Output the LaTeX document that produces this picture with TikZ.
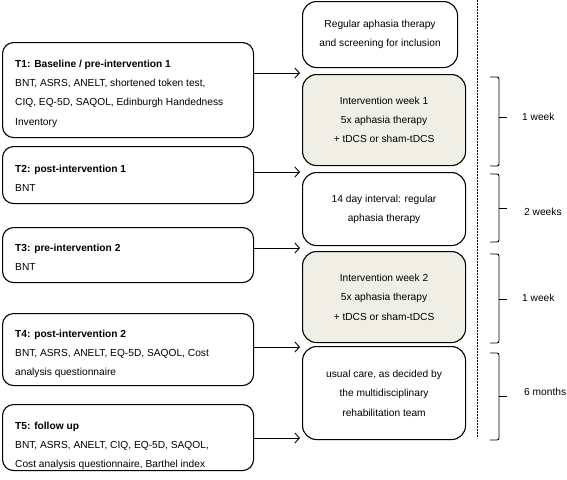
\documentclass[tikz,border=0pt]{standalone}
\usepackage{fontspec}
\setmainfont{Liberation Sans}
\usetikzlibrary{arrows.meta}
\definecolor{interfill}{RGB}{239,239,230}
\tikzset{
  lbox/.style={draw, line width=1.1pt, rounded corners=11pt, anchor=north west, inner sep=0pt},
  rbox/.style={draw, line width=1.1pt, rounded corners=14pt, anchor=north west, inner sep=0pt,
               align=center, font=\fontsize{10.2}{19.3}\selectfont},
  ibox/.style={rbox, fill=interfill},
  ltext/.style={anchor=north west, inner sep=0pt, align=left, font=\fontsize{10.2}{19.3}\selectfont},
  conn/.style={line width=0.9pt, -{Straight Barb[length=4.5pt,width=10pt,line width=0.9pt]}},
  bracket/.style={line width=0.9pt, rounded corners=2pt},
  tick/.style={line width=0.9pt},
  dur/.style={anchor=west, inner sep=0pt, font=\fontsize{10.2}{12}\selectfont},
  timeline/.style={line width=1pt, dash pattern=on 2pt off 1pt}
}
\newcommand{\fst}{\rule{0pt}{7.6pt}}
\begin{document}
\begin{tikzpicture}[x=1pt,y=-1pt]
\useasboundingbox (0,0) rectangle (567,479);

% left boxes
\node[lbox, minimum width=251pt, minimum height=95pt] (L1) at (2,42) {};
\node[lbox, minimum width=251pt, minimum height=57pt] (L2) at (2,146) {};
\node[lbox, minimum width=251pt, minimum height=55pt] (L3) at (2,227) {};
\node[lbox, minimum width=251pt, minimum height=72pt] (L4) at (2,313) {};
\node[lbox, minimum width=251pt, minimum height=66pt] (L5) at (2,404) {};

\node[ltext] (L1t) at (15,59.4) {\fst\textbf{T1: Baseline / pre-intervention 1}\\BNT, ASRS, ANELT, shortened token test,\\CIQ, EQ-5D, SAQOL, Edinburgh Handedness\\Inventory};
\node[ltext] (L2t) at (15,164.4) {\fst\textbf{T2: post-intervention 1}\\BNT};
\node[ltext] (L3t) at (15,243.4) {\fst\textbf{T3: pre-intervention 2}\\BNT};
\node[ltext] (L4t) at (15,329.4) {\fst\textbf{T4: post-intervention 2}\\BNT, ASRS, ANELT, EQ-5D, SAQOL, Cost\\analysis questionnaire};
\node[ltext] (L5t) at (15,421.4) {\fst\textbf{T5: follow up}\\BNT, ASRS, ANELT, CIQ, EQ-5D, SAQOL,\\Cost analysis questionnaire, Barthel index};

% right boxes
\node[rbox, minimum width=155pt, minimum height=66pt] (R0) at (302,1) {Regular aphasia therapy\\and screening for inclusion};
\node[ibox, minimum width=163pt, minimum height=91pt] (R1) at (302,74) {Intervention week 1\\5x aphasia therapy\\+ tDCS or sham-tDCS};
\node[rbox, minimum width=163pt, minimum height=73pt] (R2) at (302,172) {14 day interval: regular\\aphasia therapy};
\node[ibox, minimum width=163pt, minimum height=91pt] (R3) at (302,251) {Intervention week 2\\5x aphasia therapy\\+ tDCS or sham-tDCS};
\node[rbox, minimum width=163pt, minimum height=93pt] (R4) at (302,346) {usual care, as decided by\\the multidisciplinary\\rehabilitation team};

% arrow end points
\coordinate (a1) at (300,73);
\coordinate (a2) at (300,172);
\coordinate (a3) at (300,248);
\coordinate (a4) at (300,347);
\coordinate (a5) at (300,438);
\draw[conn] (L1.east |- a1) -- (a1);
\draw[conn] (L2.east |- a2) -- (a2);
\draw[conn] (L3.east |- a3) -- (a3);
\draw[conn] (L4.east |- a4) -- (a4);
\draw[conn] (L5.east |- a5) -- (a5);

% dashed timeline
\coordinate (dtop) at (477,0);
\coordinate (dbot) at (477,438);
\draw[timeline] (dtop) -- (dbot);

% brackets
\draw[bracket] (490,77) -- (499,77) -- (499,166) -- (490,166);
\draw[tick] (499,117) -- (507,117);
\draw[bracket] (490,174) -- (499,174) -- (499,242) -- (490,242);
\draw[tick] (499,208) -- (507,208);
\draw[bracket] (490,254) -- (499,254) -- (499,343) -- (490,343);
\draw[tick] (499,299) -- (507,299);
\draw[bracket] (490,353) -- (499,353) -- (499,440) -- (490,440);
\draw[tick] (499,396) -- (507,396);

\node[dur] (d1) at (522,117) {1 week};
\node[dur] (d2) at (524,212) {2 weeks};
\node[dur] (d3) at (522,298) {1 week};
\node[dur] (d4) at (524,392) {6 months};
\end{tikzpicture}
\end{document}
